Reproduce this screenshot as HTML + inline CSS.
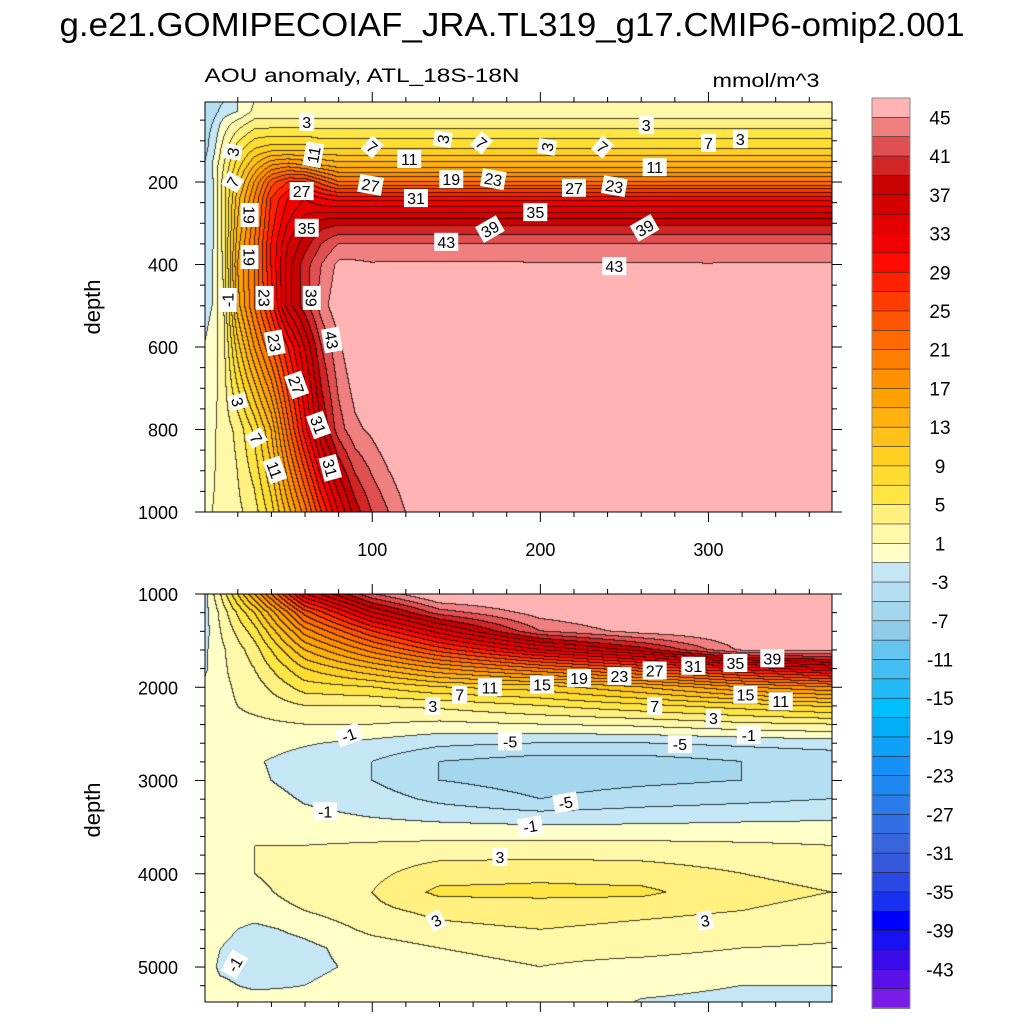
<!DOCTYPE html>
<html><head><meta charset="utf-8">
<style>
html,body{margin:0;padding:0;background:#fff;}
#wrap{position:relative;width:1024px;height:1024px;overflow:hidden;font-family:"Liberation Sans",sans-serif;}
canvas{position:absolute;}
svg{position:absolute;left:0;top:0;}
</style></head>
<body>
<div id="wrap">
<canvas id="ctop" width="627" height="410" style="left:205px;top:102px"></canvas>
<canvas id="cbot" width="627" height="408" style="left:205px;top:594px"></canvas>
<svg id="ov" width="1024" height="1024"></svg>
</div>
<script>
// ---- data ----
const colorLevels = ["#7A1CE8","#5A10E8","#3A0CEC","#1A10F4","#0000FF","#1830F0","#2A48E4","#3558DC","#3864DC","#3070E4","#2A7CEA","#1E88F0","#1590F8","#0FA0F8","#00AEF8","#00BFFF","#22BBF8","#44BEF2","#66C4F0","#90CCEA","#A4D6EE","#B4DFF2","#C4E6F5","#FFFFC8","#FFF8A8","#FFF080","#FFE645","#FFDC30","#FFD020","#FFC01A","#FFB20F","#FFA200","#FF9000","#FF7E00","#FF6A00","#FF5500","#FF3C00","#FF2200","#FF0A00","#F20000","#E40000","#D50000","#C80000","#D22525","#E05050","#F08080","#FFB3B3"];
const cbLabels = [45,41,37,33,29,25,21,17,13,9,5,1,-3,-7,-11,-15,-19,-23,-27,-31,-35,-39,-43];

const topDays = [0,5,12,20,30,40,50,60,70,80,90,100,110,120,140,200,300,373];
const topDepths = [6,30,60,120,160,200,240,300,350,400,500,600,800,1000];
const topVals = [
 [-5,-4,-3,-1,1,1,1,1,1,1,1,1,1,1,1,1,1,1],
 [-5,-4,-2,-1,1.5,1.5,1.5,1.5,1.5,1.5,1.5,1.5,1.5,1.5,1.5,1.5,1.5,1.5],
 [-4,-3,0,2,4,4,4,4,4,4,4,4,4,4,4,4,4,4],
 [-4,-2,2,6,9,10,10,10,9,9,9,9,9,9,9,9,9,9],
 [-3,-1,3,8,13,17,18,17,15,14,14,14,14,14,14,14,14,14],
 [-3,-1.5,4,10,17,24,27,27,24,21,21,21,21,21,21,21,21,21],
 [-2.5,-1.5,4,12,19,27,31,33,31,30,30,30,30,30,30,30,30,30],
 [-2,-1.5,4,13,20,28,33,36,38,38.5,38.5,38.5,38.5,38.5,38.5,38.5,38.5,38.5],
 [-2,-1.5,4,14,21,29,35,38,41,43,43,43,43,43,43,43,43,43],
 [-1.5,-1.2,3.5,15,21,29,36,40,43,45.5,45.5,45.2,45.3,45.3,45.3,45.2,45.1,45.2],
 [-1.5,-1,3,14,21,28,36,40,44,46.5,47,47,47,47,47,47,47,47],
 [-1,-0.5,2.5,10,17,23,29,35,41,44.5,47,48,48,48,48,48,48,48],
 [0,0.5,2,3.5,7.5,13,22,30,37,42,44.5,45.5,47,48,48,48,48,48],
 [0.5,1,1.5,2.5,4,8,14,20,27,33,38,41,43,45,47,48,48,48]
];
const botDays = [0,10,30,60,100,140,200,260,320,373];
const botDepths = [1000,1200,1400,1600,1800,2000,2200,2400,2600,2800,3000,3200,3400,3600,3800,4000,4200,4400,4600,4800,5000,5200,5400];
const botVals = [
 [-2,3,15,33,43,48,48,48,48,48],
 [-2,1.5,9,24,35,42,46,47.5,48,48],
 [-2,1,6,18,27,34,43,46,47,48],
 [-1.5,0.5,4,13,20,26,33,38,45.5,46],
 [-1.5,0.5,3,9,13,17,21,25,30,33],
 [-0.5,0.5,2,6,7,9,10,13,17,19],
 [0.5,0.5,1.5,3,3,3.5,5,6.5,8,9.5],
 [0.5,0.5,0.5,1,1,0.5,1,1.5,2.5,3],
 [0.5,0.3,-0.2,-0.8,-1.5,-2.5,-3,-3,-2.5,-2],
 [0.5,0.3,-0.8,-1.8,-3,-5,-6,-6,-5,-4.5],
 [0.5,0.3,-0.6,-1.8,-3,-5,-6,-5.5,-5,-4.5],
 [0.5,0.3,0,-1.2,-2,-3.5,-5,-4,-3.5,-3],
 [0.5,0.5,0.5,-0.5,-1,-1.5,-2,-1.8,-1.5,-1.3],
 [0.5,0.5,1,0.5,0.5,0.5,0.5,0.5,0.5,0.5],
 [0.5,0.5,1,1.5,2,2.5,2.5,2.5,2,1.5],
 [0.5,0.5,1,2,2.5,4,4.5,4,3,2.5],
 [0.5,0.5,0.5,1.8,3,5.5,5.5,5.5,3.5,3],
 [0.5,0.3,0,1,2.5,3.5,4,3.5,3,2.5],
 [0.5,-0.5,-1.5,-0.5,1.5,2.5,3,2.5,2,1.5],
 [0.5,-1,-2,-1.5,0,1,1.5,1.5,1,0.8],
 [0.5,-1.5,-2,-1.5,-0.5,0.5,1,0.5,0.2,0],
 [0.5,-0.5,-1.5,-1,0,0.5,0.5,-0.5,-1,-1],
 [0.5,0.5,0.5,0,0.5,0.5,0.5,-1.2,-1.5,-1.5]
];
const topLabels = [["3",61,54,0],["11",65,134,-80],["7",100,115,40],["11",122,144,0],["3",142,96,-80],["7",165,105,40],["3",204,115,-80],["7",237,115,40],["3",263,62,0],["11",268,164,0],["7",300,105,0],["3",319,96,0],["7",17,200,-60],["3",17,127,-80],["27",58,222,0],["27",99,207,10],["31",126,239,0],["19",147,193,0],["23",172,193,10],["27",220,214,0],["23",244,210,10],["35",61,311,0],["35",197,273,0],["39",170,314,-30],["39",262,311,-30],["43",144,345,0],["43",244,404,0],["19",27,280,90],["19",27,382,90],["-1",14,486,-90],["23",36,481,90],["39",64,481,90],["43",76,583,80],["23",42,590,80],["27",55,692,70],["31",68,789,70],["3",20,733,75],["7",31,821,60],["11",42,898,70],["31",75,893,75]];
const botLabels = [["39",338,1690,0],["35",316,1740,0],["31",291,1770,0],["27",268,1820,0],["23",247,1880,0],["19",223,1900,0],["15",201,1970,0],["11",170,2000,0],["7",152,2080,0],["3",136,2200,0],["15",322,2080,0],["11",343,2150,0],["7",268,2200,0],["3",303,2330,0],["-1",324,2510,0],["-1",86,2510,-20],["-5",182,2580,0],["-5",283,2610,0],["-5",215,3235,-10],["-1",194,3490,-10],["-1",72,3330,0],["3",176,3820,0],["3",138,4500,-30],["3",298,4500,-10],["-1",18,4970,-60]];

// ---- axes ----
const X0=205, XW=627, D0=0.5, D1=373.5;
const xScale = d => X0 + (d-D0)/(D1-D0)*XW;
const topY = z => 102 + (z-6)/(1000-6)*410;
const botY = z => 594 + (z-1000)/(5375-1000)*408;

function interp(days, depths, vals, d, z){
  let i=0; while(i<days.length-2 && d>days[i+1]) i++;
  let j=0; while(j<depths.length-2 && z>depths[j+1]) j++;
  let tx=(d-days[i])/(days[i+1]-days[i]); tx=Math.max(0,Math.min(1,tx));
  let ty=(z-depths[j])/(depths[j+1]-depths[j]); ty=Math.max(0,Math.min(1,ty));
  const a=vals[j][i],b=vals[j][i+1],c=vals[j+1][i],e=vals[j+1][i+1];
  return (a*(1-tx)+b*tx)*(1-ty)+(c*(1-tx)+e*tx)*ty;
}
function hex(h){return [parseInt(h.substr(1,2),16),parseInt(h.substr(3,2),16),parseInt(h.substr(5,2),16)];}
const rgb = colorLevels.map(hex);
function draw(canvas, days, depths, vals, yInv){
  const W=canvas.width,H=canvas.height,ctx=canvas.getContext('2d');
  const img=ctx.createImageData(W,H);
  const idx=new Int16Array(W*H);
  for(let y=0;y<H;y++){const z=yInv(y+0.5);
    for(let x=0;x<W;x++){const d=D0+(x+0.5)/XW*(D1-D0);
      const v=interp(days,depths,vals,d,z);
      idx[y*W+x]=Math.max(0,Math.min(46,Math.floor((v+47)/2)));}}
  for(let y=0;y<H;y++)for(let x=0;x<W;x++){
    const k=idx[y*W+x];let c=rgb[k];
    const edge=(x<W-1&&idx[y*W+x+1]!==k)||(y<H-1&&idx[(y+1)*W+x]!==k);
    const p=(y*W+x)*4;
    if(edge){img.data[p]=c[0]*0.25;img.data[p+1]=c[1]*0.25;img.data[p+2]=c[2]*0.25;}
    else{img.data[p]=c[0];img.data[p+1]=c[1];img.data[p+2]=c[2];}
    img.data[p+3]=255;}
  ctx.putImageData(img,0,0);
}
draw(document.getElementById('ctop'),topDays,topDepths,topVals,y=>6+y/410*(1000-6));
draw(document.getElementById('cbot'),botDays,botDepths,botVals,y=>1000+y/408*(5375-1000));

// ---- overlay ----
const NS="http://www.w3.org/2000/svg", ov=document.getElementById('ov');
function el(tag,attrs,parent){const e=document.createElementNS(NS,tag);for(const k in attrs)e.setAttribute(k,attrs[k]);(parent||ov).appendChild(e);return e;}
function txt(s,x,y,size,anchor,name,rot,len){const t=el('text',{x:x,y:y,'font-size':size,'text-anchor':anchor||'middle','font-family':'Liberation Sans, sans-serif',fill:'#000'});
  if(rot!==undefined&&rot!==null)t.setAttribute('transform','rotate('+rot+' '+x+' '+y+')');
  if(len){t.setAttribute('textLength',len);t.setAttribute('lengthAdjust','spacingAndGlyphs');}
  t.textContent=s;
  
  
  return t;}

txt('g.e21.GOMIPECOIAF_JRA.TL319_g17.CMIP6-omip2.001',512,36,33,'middle','chart-title',null,905);
txt('AOU anomaly, ATL_18S-18N',362,82,19,'middle','subtitle',null,315);
txt('mmol/m^3',766,87,19,'middle','units-label',null,107);
txt('depth',100,307,22,'middle','top-y-axis-title',-90);
txt('depth',100,810,22,'middle','bottom-y-axis-title',-90);

function panel(top,bot,yfn,majors,minorStep,zmin,zmax,xlabels,pname){
  const g=el('g',{});
  
  
  el('rect',{x:X0,y:top,width:XW,height:bot-top,fill:'none',stroke:'#000','stroke-width':1},g);
  for(let d=20;d<D1;d+=20){const x=xScale(d),L=(d%100===0)?10:5;
    el('line',{x1:x,y1:top,x2:x,y2:top-L,stroke:'#000'},g);
    el('line',{x1:x,y1:bot,x2:x,y2:bot+L,stroke:'#000'},g);}
  if(xlabels) [100,200,300].forEach(d=>txt(String(d),xScale(d),bot+44,18,'middle','x-tick-label-'+d));
  for(let z=Math.ceil(zmin/minorStep)*minorStep;z<=zmax;z+=minorStep){const y=yfn(z);const maj=majors.includes(z);const L=maj?10:5;
    el('line',{x1:X0,y1:y,x2:X0-L,y2:y,stroke:'#000'},g);
    el('line',{x1:X0+XW,y1:y,x2:X0+XW+L,y2:y,stroke:'#000'},g);}
  majors.forEach(z=>txt(String(z),178,yfn(z)+7,18,'end',pname+'-y-tick-'+z));
}
panel(102,512,topY,[200,400,600,800,1000],50,6,1000,true,'top');
panel(594,1002,botY,[1000,2000,3000,4000,5000],200,1000,5375,false,'bottom');

function labels(list,yfn,pname){
  list.forEach(l=>{const x=xScale(l[1]),y=yfn(l[2]);
    const g=el('g',{transform:'translate('+x+' '+y+') rotate('+l[3]+')'});
    
    
    const w=l[0].length*9+6;
    el('rect',{x:-w/2,y:-9,width:w,height:18,fill:'#fff'},g);
    const t=el('text',{x:0,y:6,'font-size':16,'text-anchor':'middle','font-family':'Liberation Sans, sans-serif'},g);
    t.textContent=l[0];});
}
labels(topLabels,topY,'top');
labels(botLabels,botY,'bottom');

// colorbar
const cb=el('g',{});


const bh=910/47;
for(let i=0;i<47;i++){const c=colorLevels[46-i];
  const r=el('rect',{x:872,y:98+i*bh,width:38,height:bh+0.5,fill:c,stroke:'#222','stroke-width':0.6},cb);
  
  }
el('rect',{x:872,y:98,width:38,height:910,fill:'none',stroke:'#888','stroke-width':1},cb);
cbLabels.forEach((v,i)=>txt(String(v),940,98+bh*(1+2*i)+7,19,'middle','colorbar-label'));
</script>
</body></html>
